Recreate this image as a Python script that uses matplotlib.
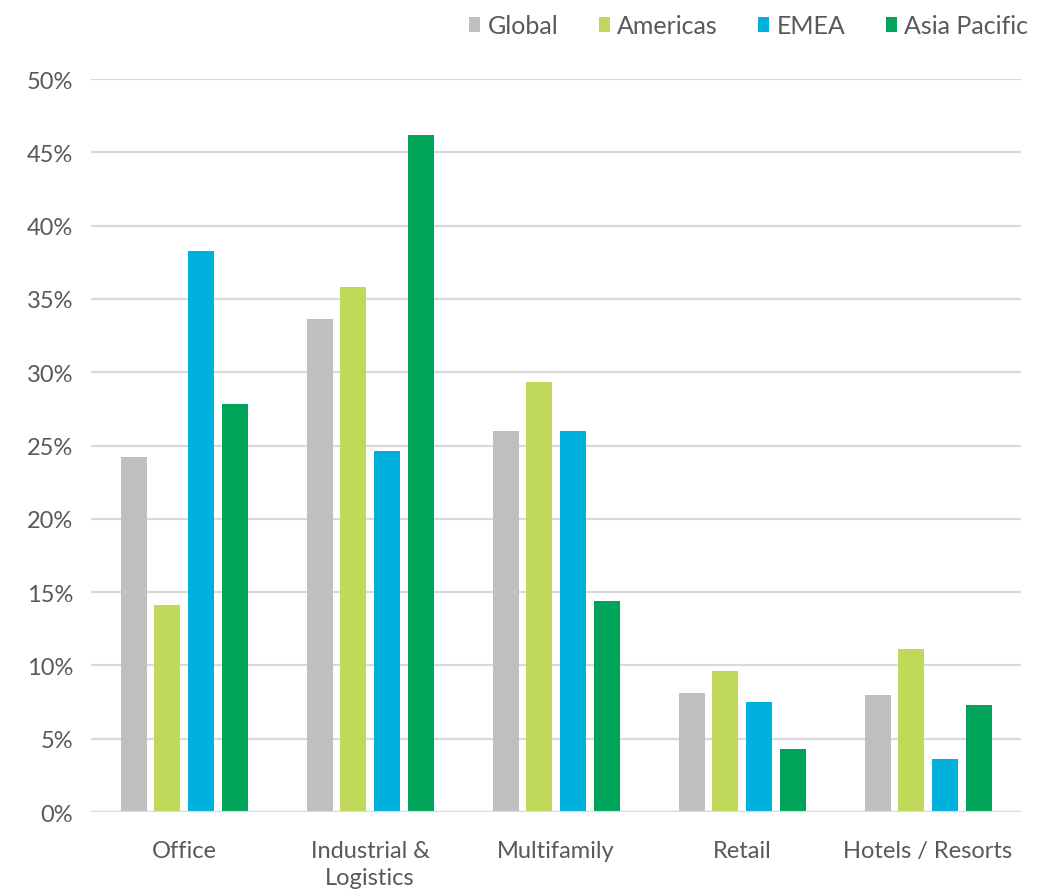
import numpy as np
import matplotlib
matplotlib.use("Agg")
import matplotlib.pyplot as plt
from matplotlib.ticker import FuncFormatter

# Share of investment by sector and region (%)
categories = ["Office", "Industrial &\nLogistics", "Multifamily", "Retail", "Hotels / Resorts"]
regions = ["Global", "Americas", "EMEA", "Asia Pacific"]
global_vals = [24.2, 33.6, 26.0, 8.1, 8.0]
americas_vals = [14.1, 35.8, 29.3, 9.6, 11.1]
emea_vals = [38.3, 24.6, 26.0, 7.5, 3.6]
apac_vals = [27.8, 46.2, 14.4, 4.3, 7.3]
colors = ["#BFBFBF", "#C0D95B", "#00B1DD", "#00A459"]

plt.rcParams["font.family"] = ["Lato", "DejaVu Sans"]
text_color = "#595959"
grid_color = "#D9D9D9"

fig = plt.figure(figsize=(10.55, 8.95), dpi=100)
ax = fig.add_axes([0.0863, 0.0916, 0.8815, 0.819])

x = np.arange(len(categories))
width = 0.14
pitch = 0.181
series = [global_vals, americas_vals, emea_vals, apac_vals]
for i, (vals, name, col) in enumerate(zip(series, regions, colors)):
    offset = (i - 1.5) * pitch
    ax.bar(x + offset, vals, width, color=col, label=name, zorder=3)

ax.set_xlim(-0.5, len(categories) - 0.5)
ax.set_ylim(0, 50)
ax.set_yticks(np.arange(0, 51, 5))
ax.yaxis.set_major_formatter(FuncFormatter(lambda v, _: f"{v:.0f}%"))
ax.set_xticks(x)
ax.set_xticklabels(categories, linespacing=1.35)

ax.grid(axis="y", color=grid_color, linewidth=1.6, zorder=0)
ax.axhline(0, color=grid_color, linewidth=1.6, zorder=4)
for s in ax.spines.values():
    s.set_visible(False)
ax.tick_params(axis="both", length=0, labelsize=17, colors=text_color)
ax.tick_params(axis="y", pad=13)
ax.tick_params(axis="x", pad=20)

leg = fig.legend(loc="upper right", bbox_to_anchor=(0.996, 1.008), ncol=4, frameon=False,
                 fontsize=18, handlelength=0.45, handleheight=0.6, handletextpad=0.3,
                 columnspacing=1.6)
for t in leg.get_texts():
    t.set_color(text_color)

fig.savefig("out.png", dpi=100)
